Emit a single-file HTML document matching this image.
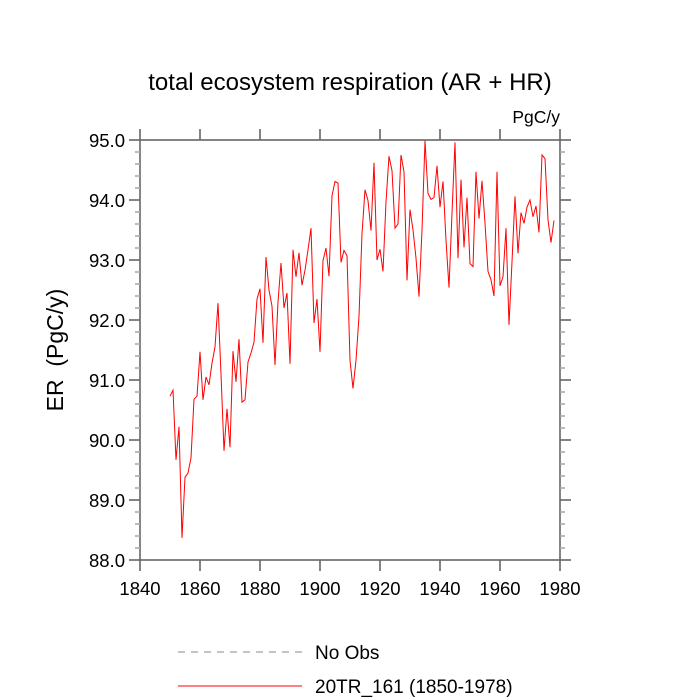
<!DOCTYPE html>
<html><head><meta charset="utf-8"><style>
body{margin:0;background:#fff}
svg{display:block;font-family:"Liberation Sans",sans-serif}
</style></head><body>
<svg id="chart" width="700" height="700">
<text x="350" y="90" text-anchor="middle" font-size="24">total ecosystem respiration (AR + HR)</text>
<text x="560" y="123" text-anchor="end" font-size="17.5">PgC/y</text>
<text transform="translate(63,350) rotate(-90)" text-anchor="middle" font-size="23" style="white-space:pre" xml:space="preserve">ER  (PgC/y)</text>
<g id="axes"></g>
<g id="series"></g>
<g>
<line x1="178" y1="652" x2="302" y2="652" stroke="#888" stroke-dasharray="7,6"/>
<text x="315" y="659" font-size="19">No Obs</text>
<line x1="178" y1="686" x2="302" y2="686" stroke="red" stroke-width="1"/>
<text x="315" y="693" font-size="19">20TR_161 (1850-1978)</text>
</g>
</svg>
<script>
const startYear = 1850;
const erValues = [90.73,90.83,89.67,90.22,88.37,89.38,89.45,89.70,90.68,90.73,
91.47,90.67,91.05,90.92,91.28,91.55,92.28,91.1,89.82,90.52,
89.88,91.48,90.97,91.68,90.63,90.67,91.3,91.45,91.63,92.35,
92.52,91.62,93.05,92.5,92.23,91.25,92.3,92.95,92.2,92.45,
91.27,93.17,92.72,93.12,92.58,92.83,93.17,93.53,91.95,92.35,
91.47,92.99,93.2,92.73,94.07,94.31,94.28,92.96,93.16,93.07,
91.33,90.86,91.33,92.06,93.44,94.17,93.99,93.49,94.62,93.0,
93.18,92.81,93.97,94.73,94.49,93.53,93.6,94.75,94.47,92.66,
93.84,93.5,93.03,92.39,93.5,94.99,94.11,94.01,94.04,94.57,
93.88,94.31,93.33,92.54,93.78,94.96,93.03,94.34,93.21,94.04,
92.94,92.89,94.47,93.69,94.32,93.61,92.81,92.67,92.4,94.47,
92.57,92.72,93.53,91.92,92.97,94.06,93.11,93.79,93.61,93.88,
94.0,93.72,93.9,93.46,94.75,94.69,93.67,93.29,93.66];
const xTicks = [1840,1860,1880,1900,1920,1940,1960,1980];
const yTicks = [88.0,89.0,90.0,91.0,92.0,93.0,94.0,95.0];
const NS="http://www.w3.org/2000/svg";
const L=140,R=560,T=140,B=560;
const xs=v=>L+(v-1840)/(1980-1840)*(R-L);
const ys=v=>B-(v-88)/(95-88)*(B-T);
const axes=document.getElementById('axes');
function mk(tag,at,parent){const e=document.createElementNS(NS,tag);for(const k in at)e.setAttribute(k,at[k]);parent.appendChild(e);return e;}
const box=mk('rect',{x:L,y:T,width:R-L,height:B-T,fill:'none',stroke:'#666','stroke-width':1.6},axes);


xTicks.forEach(t=>{
  const x=xs(t);
  mk('line',{x1:x,y1:B,x2:x,y2:B+11,stroke:'#666','stroke-width':1.6},axes);
  mk('line',{x1:x,y1:T,x2:x,y2:T-11,stroke:'#666','stroke-width':1.6},axes);
  const tx=mk('text',{x:x,y:B+35,'text-anchor':'middle','font-size':18.5},axes);
  tx.textContent=t;
  
  
});
for(let v=88;v<=95.001;v+=0.2){
  const y=ys(v);const major=Math.abs(v-Math.round(v))<0.01;
  const len=major?11:5;
  mk('line',{x1:L,y1:y,x2:L-len,y2:y,stroke:major?'#666':'#aaa','stroke-width':1.6},axes);
  mk('line',{x1:R,y1:y,x2:R+len,y2:y,stroke:major?'#666':'#aaa','stroke-width':1.6},axes);
}
yTicks.forEach(t=>{
  const tx=mk('text',{x:L-15,y:ys(t)+7,'text-anchor':'end','font-size':18.5},axes);
  tx.textContent=t.toFixed(1);
  
  
});
const pts=erValues.map((v,i)=>xs(startYear+i).toFixed(1)+','+ys(v).toFixed(1)).join(' ');
const line=mk('polyline',{points:pts,fill:'none',stroke:'red','stroke-width':1},document.getElementById('series'));


</script>
</body></html>
